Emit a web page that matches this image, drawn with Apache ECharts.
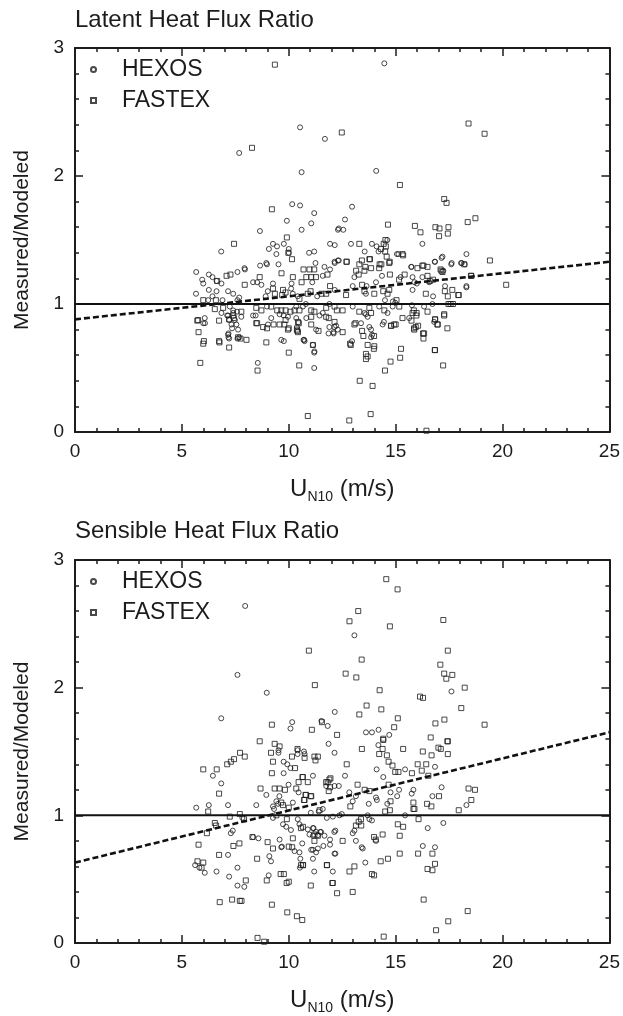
<!DOCTYPE html>
<html>
<head>
<meta charset="utf-8">
<title>Heat flux ratio</title>
<script src="https://cdn.jsdelivr.net/npm/echarts@6/dist/echarts.min.js"></script>
<style>
    html, body { margin: 0; padding: 0; background: #fff; }
    #scatterChart { width: 623px; height: 1016px; }
</style>
</head>
<body>
<div id="scatterChart"></div>
<script>
// values: [U_N10 (m/s), measured/modeled]
var latentHexos = [
    [14.47,2.88],[10.53,2.38],[11.69,2.29],[7.68,2.18],[10.6,2.03],[14.09,2.04],[12.96,1.76],[10.16,1.78],[10.53,1.77],
    [11.19,1.71],[9.91,1.65],[11.05,1.63],[12.63,1.66],[8.65,1.57],[10.6,1.58],[12.3,1.58],[12.34,1.59],[12.55,1.58],
    [9.26,1.47],[9.07,1.43],[9.45,1.45],[9.77,1.47],[10.0,1.43],[10.0,1.40],[9.42,1.39],[10.95,1.40],[11.19,1.41],
    [11.93,1.47],[12.15,1.46],[12.91,1.47],[13.89,1.47],[14.11,1.45],[14.61,1.50],[16.25,1.47],[6.84,1.41],[13.55,1.41],
    [14.2,1.41],[15.06,1.39],[17.19,1.37],[18.31,1.39],[17.15,1.36],[15.13,1.39],[12.3,1.34],[12.14,1.33],[12.34,1.34],
    [16.84,1.33],[17.6,1.31],[18.09,1.32],[18.23,1.31],[15.73,1.29],[8.66,1.30],[8.95,1.32],[9.52,1.31],[8.98,1.31],
    [7.95,1.27],[7.93,1.28],[7.6,1.25],[5.67,1.25],[6.26,1.23],[6.43,1.21],[5.95,1.19],[6.0,1.16],[6.62,1.18],[6.85,1.16],
    [11.25,1.32],[11.67,1.29],[11.93,1.27],[11.59,1.22],[12.15,1.32],[15.74,1.29],[16.83,1.33],[17.62,1.32],[18.06,1.32],
    [14.36,1.22],[14.08,1.17],[15.23,1.21],[16.25,1.21],[15.79,1.21],[15.88,1.17],[15.99,1.16],[16.57,1.17],[13.07,1.21],
    [8.33,1.17],[8.52,1.17],[8.72,1.15],[9.26,1.16],[10.13,1.16],[11.1,1.17],[18.31,1.13],[17.23,1.26],
    [5.66,1.08],[6.26,1.11],[6.43,1.06],[6.62,1.10],[7.16,1.10],[7.4,1.08],[7.68,1.05],[7.6,1.03],[6.9,1.03],[6.23,1.03],
    [9.02,1.10],[8.92,1.06],[10.11,1.12],[10.19,1.08],[10.42,1.06],[11.33,1.06],[12.15,1.11],[12.99,1.14],[13.61,1.08],
    [13.64,1.14],[15.79,1.11],[17.31,1.14],[18.31,1.14],[16.75,1.06],[14.98,1.01],[14.87,1.02],[14.5,1.03],[11.9,1.0],
    [7.24,0.98],[7.4,0.95],[7.58,0.94],[8.98,0.98],[9.57,0.92],[10.35,0.98],[10.66,0.98],[10.8,1.0],[11.44,0.91],
    [11.59,0.93],[12.99,0.98],[13.54,0.93],[14.23,0.98],[14.62,0.93],[14.86,0.98],[15.76,0.99],[16.33,0.98],[16.72,1.0],
    [6.07,0.89],[6.0,0.85],[7.21,0.875],[7.32,0.84],[7.48,0.875],[7.12,0.91],[7.78,0.90],[7.55,0.84],[7.63,0.80],
    [7.35,0.81],[8.33,0.91],[8.45,0.91],[9.03,0.84],[9.18,0.89],[9.96,0.90],[9.76,0.91],[10.35,0.89],[10.38,0.82],
    [10.82,0.89],[11.28,0.80],[12.21,0.83],[12.29,0.80],[12.09,0.78],[11.9,0.82],[13.38,0.85],[13.61,0.92],[13.69,0.90],
    [13.77,0.82],[13.85,0.80],[14.39,0.84],[15.63,0.89],[16.8,0.86],[14.45,0.86],[6.08,0.85],[6.85,0.93],[7.16,0.91],
    [7.4,0.93],[7.16,0.76],[7.21,0.73],[7.18,0.77],[7.18,0.74],[7.6,0.73],[7.68,0.74],[9.65,0.72],[9.77,0.71],
    [10.69,0.72],[11.13,0.68],[11.2,0.63],[12.96,0.71],[13.85,0.74],[13.9,0.76],[10.74,0.71],[11.19,0.62],[11.19,0.5],
    [8.55,0.54],[11.86,0.77],[12.1,0.77],[12.14,0.82],[10.72,0.72]
];
var latentFastex = [
    [9.35,2.87],[8.28,2.22],[12.48,2.34],[18.41,2.41],[19.16,2.33],[15.2,1.93],[17.27,1.82],[17.38,1.79],[9.21,1.74],
    [14.64,1.62],[15.9,1.61],[16.16,1.56],[16.86,1.6],[17.05,1.59],[17.47,1.6],[17.44,1.55],[17.03,1.53],[18.37,1.64],
    [18.73,1.67],[9.91,1.52],[7.44,1.47],[10.15,1.35],[13.3,1.47],[14.44,1.47],[14.52,1.50],[14.31,1.43],[14.54,1.45],
    [15.35,1.38],[19.41,1.34],[12.7,1.33],[14.25,1.31],[14.72,1.33],[16.02,1.28],[16.25,1.30],[16.49,1.29],[20.17,1.15],
    [18.54,1.22],[17.14,1.26],[9.98,1.40],[13.8,1.35],[14.51,1.41],[14.58,1.37],[15.32,1.39],[12.71,1.33],[13.3,1.31],
    [13.42,1.34],[13.77,1.35],[13.58,1.29],[13.54,1.26],[13.85,1.28],[13.15,1.26],[13.27,1.23],[14.33,1.31],[14.23,1.28],
    [14.7,1.32],[14.73,1.23],[15.42,1.23],[15.16,1.19],[16.3,1.30],[18.21,1.31],[17.19,1.25],[17.1,1.27],[16.49,1.22],
    [16.6,1.18],[16.75,1.19],[18.52,1.22],[7.27,1.23],[7.09,1.22],[7.94,1.15],[8.64,1.21],[9.66,1.24],[9.73,1.11],
    [10.19,1.21],[10.69,1.27],[10.97,1.27],[11.19,1.27],[10.82,1.21],[11.05,1.21],[11.27,1.21],[10.6,1.17],[11.81,1.23],
    [6.65,1.18],[9.26,1.12],[6.0,1.03],[6.59,1.03],[9.35,1.08],[9.69,1.07],[9.85,1.09],[10.5,1.04],[10.89,1.08],
    [11.02,1.10],[11.93,1.14],[11.53,1.08],[11.75,1.08],[12.68,1.07],[13.43,1.15],[13.54,1.10],[14.0,1.08],[14.62,1.08],
    [14.7,1.11],[14.42,1.10],[16.41,1.08],[17.65,1.11],[17.3,1.10],[17.93,1.07],[17.44,1.06],[15.04,1.03],[17.95,1.07],
    [17.57,1.0],[17.68,1.0],[6.93,0.97],[6.54,0.96],[7.78,0.94],[8.48,0.97],[8.72,0.95],[9.18,0.98],[9.46,0.95],
    [9.65,0.95],[9.85,0.95],[10.08,0.94],[10.27,0.95],[10.5,0.95],[11.05,0.95],[11.2,0.94],[11.75,0.97],[12.14,0.98],
    [12.25,0.95],[12.52,0.95],[13.3,0.94],[13.77,0.97],[13.85,0.93],[14.47,0.95],[15.17,0.98],[15.85,0.95],[15.98,0.93],
    [16.49,0.94],[17.47,1.0],[5.76,0.875],[6.74,0.87],[7.4,0.91],[8.48,0.85],[8.8,0.82],[8.98,0.81],[9.29,0.84],
    [9.57,0.84],[9.79,0.84],[9.85,0.875],[10.43,0.86],[9.96,0.80],[10.38,0.80],[10.43,0.78],[11.05,0.84],[11.75,0.90],
    [11.87,0.89],[12.14,0.86],[12.52,0.78],[13.07,0.84],[13.12,0.85],[13.43,0.79],[13.49,0.75],[14.78,0.83],[14.93,0.84],
    [15.32,0.89],[15.79,0.93],[15.97,0.91],[15.94,0.82],[15.87,0.80],[16.85,0.88],[16.95,0.84],[17.27,0.91],[17.42,0.81],
    [16.33,0.77],[5.72,0.87],[5.78,0.78],[6.0,0.69],[5.86,0.54],[7.21,0.88],[7.43,0.89],[6.76,0.70],[6.03,0.71],
    [6.74,0.71],[7.21,0.66],[7.63,0.74],[7.74,0.73],[8.02,0.72],[8.54,0.48],[8.95,0.70],[10.0,0.62],[10.49,0.52],
    [11.13,0.68],[10.89,0.125],[8.52,0.85],[10.4,0.79],[10.47,0.85],[11.39,0.79],[11.05,0.9],[10.0,0.81],[12.87,0.69],
    [13.69,0.68],[13.61,0.61],[13.69,0.59],[14.0,0.67],[15.25,0.65],[16.3,0.73],[16.83,0.64],[17.27,0.92],[16.97,0.84],
    [16.84,0.88],[16.84,0.64],[17.22,0.52],[16.28,0.77],[15.86,0.81],[16.05,0.83],[15.74,0.87],[15.21,0.58],[14.76,0.55],
    [14.5,0.48],[13.32,0.40],[13.92,0.36],[12.83,0.09],[13.83,0.14],[16.44,0.01],[13.61,0.57],[13.98,0.65],[13.99,0.75],
    [12.9,0.68],[14.79,0.83],[15.0,0.84]
];
var sensibleHexos = [
    [7.96,2.64],[13.07,2.41],[7.6,2.10],[8.97,1.96],[17.61,1.97],[6.84,1.76],[12.15,1.81],[10.16,1.73],[10.08,1.68],
    [11.82,1.70],[11.53,1.74],[14.7,1.63],[13.61,1.65],[13.89,1.65],[14.2,1.67],[11.86,1.56],[14.19,1.55],[9.52,1.51],
    [10.41,1.51],[10.71,1.50],[12.14,1.49],[10.41,1.48],[10.74,1.48],[9.52,1.49],[9.76,1.42],[9.93,1.40],[10.08,1.37],
    [9.76,1.33],[11.13,1.31],[9.99,1.24],[8.95,1.16],[9.56,1.15],[10.46,1.18],[10.19,1.10],[9.42,1.11],[9.5,1.09],
    [9.26,1.07],[9.31,1.05],[8.48,1.08],[12.14,1.23],[11.59,1.05],[11.4,1.03],[11.03,1.02],[11.78,0.98],[12.06,0.99],
    [9.26,0.98],[9.73,0.93],[9.88,0.91],[10.1,0.885],[9.57,0.81],[10.42,0.97],[10.89,0.89],[11.13,0.90],[11.28,0.87],
    [11.47,0.87],[11.67,0.84],[11.93,0.81],[12.18,0.88],[11.05,0.73],[11.36,0.74],[10.5,0.71],[10.54,0.66],[12.14,0.70],
    [10.27,0.72],[9.68,0.755],[5.67,1.06],[6.26,1.08],[6.45,1.31],[6.84,1.25],[7.16,1.08],[5.62,0.61],[5.82,0.59],
    [6.07,0.55],[6.62,0.56],[7.21,0.52],[7.6,0.45],[7.92,0.44],[7.16,0.69],[7.6,0.59],[7.29,0.86],[7.38,0.88],[8.33,0.83],
    [8.58,0.82],[9.09,0.68],[9.17,0.64],[9.65,0.75],[9.06,0.53],[10.52,0.59],[11.19,0.56],[12.06,0.56],[7.83,0.98],
    [12.63,1.31],[15.44,1.36],[14.11,1.36],[16.84,1.38],[14.42,1.30],[11.75,1.23],[12.34,1.23],[12.83,1.18],[12.99,1.11],
    [13.14,1.15],[14.08,1.14],[14.12,1.12],[13.74,1.09],[14.76,1.18],[14.61,1.09],[15.16,1.20],[15.07,1.15],[15.83,1.20],
    [15.75,1.17],[12.37,1.0],[12.48,1.01],[13.69,1.0],[13.77,0.97],[13.89,0.96],[13.07,0.88],[12.99,0.86],[15.44,1.0],
    [16.5,0.90],[17.23,0.94],[10.5,0.93],[11.16,0.90],[10.97,0.85],[11.13,0.84],[11.36,0.845],[11.51,0.87],[10.63,0.78],
    [12.13,0.87],[11.62,0.76],[11.93,0.77],[11.13,0.73],[11.28,0.71],[11.13,0.66],[12.18,0.70],[13.14,0.80],[13.41,0.75],
    [13.46,0.74],[14.08,0.80],[13.58,0.63],[16.84,0.75],[16.27,0.76],[18.31,1.08],[17.15,1.22],[16.72,1.15]
];
var sensibleFastex = [
    [14.56,2.85],[15.09,2.77],[13.25,2.60],[12.84,2.52],[17.23,2.53],[14.73,2.48],[10.94,2.29],[17.44,2.29],[13.41,2.22],
    [17.09,2.18],[17.27,2.11],[17.65,2.10],[17.37,2.07],[12.66,2.11],[13.16,2.08],[11.22,2.02],[18.23,2.0],[14.25,1.98],
    [16.14,1.93],[16.28,1.92],[18.07,1.84],[13.64,1.86],[14.33,1.83],[13.3,1.79],[15.1,1.76],[14.93,1.69],[14.42,1.60],
    [16.86,1.72],[17.28,1.75],[16.64,1.61],[17.44,1.58],[11.08,1.67],[12.26,1.63],[19.16,1.71],[9.21,1.71],[11.55,1.73],
    [8.64,1.58],[9.34,1.56],[9.57,1.54],[9.17,1.49],[7.72,1.49],[7.94,1.46],[7.44,1.44],[7.29,1.42],[7.12,1.40],
    [6.0,1.36],[6.63,1.36],[6.74,1.17],[10.15,1.46],[10.74,1.45],[11.2,1.46],[11.36,1.46],[11.25,1.43],[10.41,1.52],
    [9.26,1.42],[10.29,1.37],[9.21,1.33],[10.64,1.30],[10.46,1.26],[10.89,1.26],[9.34,1.21],[9.57,1.21],[9.82,1.20],
    [8.68,1.21],[10.35,1.21],[10.78,1.16],[11.03,1.15],[10.71,1.12],[9.65,1.10],[9.73,1.08],[10.0,1.06],[7.71,1.01],
    [7.91,0.97],[11.75,1.26],[11.9,1.28],[11.87,1.19],[11.93,1.22],[9.42,1.0],[9.91,0.97],[10.19,0.82],[10.57,0.90],
    [10.66,0.91],[11.2,0.85],[11.36,0.84],[11.2,0.80],[10.0,0.755],[10.16,0.75],[6.23,1.03],[7.24,0.99],[6.54,0.94],
    [6.6,0.92],[6.17,0.86],[5.78,0.77],[5.73,0.64],[6.0,0.63],[5.92,0.59],[7.99,0.49],[6.77,0.32],[7.35,0.34],
    [7.71,0.33],[7.79,0.33],[9.21,0.30],[9.93,0.24],[10.38,0.21],[10.63,0.18],[8.54,0.04],[8.85,0.01],[14.44,0.05],
    [16.89,0.10],[17.46,0.17],[18.37,0.25],[16.31,0.34],[6.74,0.69],[7.41,0.76],[7.69,0.78],[8.3,0.83],[8.52,0.66],
    [9.01,0.79],[9.26,0.74],[8.97,0.49],[9.62,0.54],[9.77,0.54],[9.9,0.47],[10.0,0.48],[10.57,0.61],[10.67,0.61],
    [11.03,0.45],[11.78,0.61],[12.06,0.47],[13.42,1.52],[14.39,1.52],[14.23,1.48],[14.59,1.47],[14.42,1.59],[15.35,1.52],
    [16.27,1.50],[16.68,1.47],[17.0,1.53],[17.11,1.52],[17.44,1.48],[17.42,1.58],[12.71,1.40],[14.67,1.42],[14.85,1.39],
    [14.98,1.34],[15.13,1.34],[16.03,1.40],[16.43,1.40],[15.76,1.33],[16.22,1.35],[16.53,1.31],[10.66,1.30],[11.95,1.29],
    [11.82,1.26],[10.81,1.16],[11.05,1.15],[10.74,1.12],[11.44,1.04],[13.22,1.24],[12.88,1.07],[13.55,1.20],[13.77,1.19],
    [14.67,1.24],[14.76,1.11],[14.51,1.03],[14.73,1.04],[15.83,1.10],[15.83,1.05],[15.88,1.05],[13.38,0.97],[13.27,0.95],
    [13.14,0.92],[13.39,0.92],[15.1,0.93],[15.35,0.91],[16.07,0.97],[12.52,0.80],[13.99,0.83],[14.07,0.81],[14.39,0.85],
    [15.19,0.84],[15.19,0.70],[14.64,0.66],[14.3,0.64],[13.07,0.60],[12.84,0.56],[13.89,0.54],[13.99,0.53],[11.79,0.61],
    [10.66,0.61],[12.04,0.47],[12.26,0.39],[12.99,0.40],[16.05,0.70],[16.72,0.70],[16.49,0.58],[16.72,0.57],[16.84,0.62],
    [17.95,1.04],[18.54,1.12],[18.41,1.21],[18.71,1.20],[17.03,1.15],[16.67,1.07],[16.47,1.09]
];
// ratio = 1 reference and the dashed fits, end points at U = 0 and 25
var unityLine = [[0, 1], [25, 1]];
var latentFit = [[0, 0.88], [25, 1.33]];
var sensibleFit = [[0, 0.63], [25, 1.65]];
var xTicks = [0, 5, 10, 15, 20, 25];
var yTicks = [0, 1, 2, 3];
var titles = ['Latent Heat Flux Ratio', 'Sensible Heat Flux Ratio'];

function drawChart() {
    var FONT = '"Liberation Sans", Arial, Helvetica, sans-serif';
    var INK = '#1c1c1c';
    var myChart = echarts.init(document.getElementById('scatterChart'), null, {renderer: 'canvas'});

    var grids = [
        {left: 75, top: 48, width: 536, height: 384},
        {left: 75, top: 560, width: 536, height: 384}
    ];

    function xAxis(g, pos) {
        var main = pos === 'bottom';
        return {
            type: 'value', gridIndex: g, position: pos,
            min: xTicks[0], max: xTicks[xTicks.length - 1], interval: xTicks[1] - xTicks[0],
            axisLine: {show: true, onZero: false, lineStyle: {color: INK, width: 2}},
            axisTick: {show: true, inside: true, length: 8, lineStyle: {color: INK, width: 1.5}},
            minorTick: {show: true, splitNumber: 5, length: 4, lineStyle: {color: INK, width: 1.5}},
            splitLine: {show: false},
            axisLabel: {show: main, fontSize: 19, color: INK, margin: 10, fontFamily: FONT},
            name: main ? '{u|U}{sub|N10}{u| (m/s)}' : '',
            nameLocation: 'middle',
            nameGap: 42,
            nameTextStyle: {
                color: INK, fontFamily: FONT,
                rich: {
                    u: {fontSize: 24, color: INK, fontFamily: FONT},
                    sub: {fontSize: 14, color: INK, fontFamily: FONT, padding: [16, 0, 0, 0]}
                }
            }
        };
    }

    function yAxis(g, pos) {
        var main = pos === 'left';
        return {
            type: 'value', gridIndex: g, position: pos,
            min: yTicks[0], max: yTicks[yTicks.length - 1], interval: yTicks[1] - yTicks[0],
            axisLine: {show: true, onZero: false, lineStyle: {color: INK, width: 2}},
            axisTick: {show: true, inside: true, length: 8, lineStyle: {color: INK, width: 1.5}},
            minorTick: {show: true, splitNumber: 5, length: 4, lineStyle: {color: INK, width: 1.5}},
            splitLine: {show: false},
            axisLabel: {show: main, fontSize: 19, color: INK, margin: 11, fontFamily: FONT},
            name: main ? 'Measured/Modeled' : '',
            nameLocation: 'middle',
            nameGap: 42,
            nameTextStyle: {fontSize: 21, color: INK, fontFamily: FONT}
        };
    }

    function points(name, data, sym, g) {
        return {
            name: name, type: 'scatter', xAxisIndex: g * 2, yAxisIndex: g * 2,
            data: data, symbol: sym, symbolSize: 5,
            itemStyle: {color: 'rgba(255,255,255,0)', borderColor: INK, borderWidth: 1},
            z: 3
        };
    }

    function line(data, g, dashed) {
        return {
            type: 'line', xAxisIndex: g * 2, yAxisIndex: g * 2,
            data: data, symbol: 'none', silent: true,
            lineStyle: {color: '#111', width: dashed ? 2.6 : 2, type: dashed ? [6, 3] : 'solid'},
            z: 4
        };
    }

    // small 5px markers with a wide gap before the text, as in the figure
    function legendAt(top) {
        return {
            orient: 'vertical', left: 90, top: top, padding: 0,
            itemWidth: 5, itemHeight: 5, itemGap: 8,
            selectedMode: false,
            data: ['HEXOS', 'FASTEX'],
            textStyle: {fontSize: 23, color: INK, fontFamily: FONT, padding: [0, 0, 0, 21]}
        };
    }

    var option = {
        backgroundColor: '#ffffff',
        animation: false,
        title: [
            {text: titles[0], left: 75, top: 8, padding: 0,
             textStyle: {fontSize: 24, fontWeight: 'normal', color: INK, fontFamily: FONT}},
            {text: titles[1], left: 75, top: 519, padding: 0,
             textStyle: {fontSize: 24, fontWeight: 'normal', color: INK, fontFamily: FONT}}
        ],
        legend: [legendAt(58), legendAt(570)],
        grid: grids,
        xAxis: [xAxis(0, 'bottom'), xAxis(0, 'top'), xAxis(1, 'bottom'), xAxis(1, 'top')],
        yAxis: [yAxis(0, 'left'), yAxis(0, 'right'), yAxis(1, 'left'), yAxis(1, 'right')],
        series: [
            points('HEXOS', latentHexos, 'circle', 0),
            points('FASTEX', latentFastex, 'rect', 0),
            line(unityLine, 0, false),
            line(latentFit, 0, true),
            points('HEXOS', sensibleHexos, 'circle', 1),
            points('FASTEX', sensibleFastex, 'rect', 1),
            line(unityLine, 1, false),
            line(sensibleFit, 1, true)
        ]
    };
    myChart.setOption(option);
    window.addEventListener('resize', function () {
        myChart.resize();
    });
}

drawChart();
</script>
</body>
</html>
